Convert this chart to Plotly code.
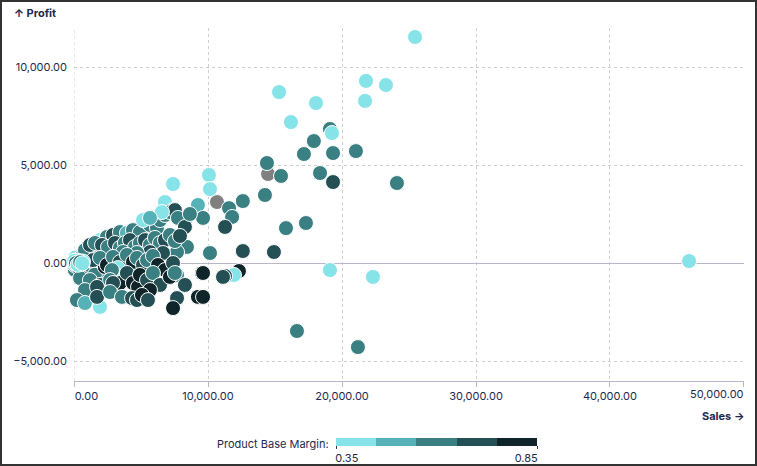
import plotly.graph_objects as go

# ---- data (Sales, Profit, Product Base Margin; None = missing margin) ----
sales = [
    25450, 21790, 23280, 21720, 15300, 18060, 16190, 19100, 19250, 17900,
    17160, 19330, 21040, 14400, 14480, 15450, 18360, 19330, 24100, 14250,
    12600, 11570, 11800, 11270, 15820, 17310, 12600, 14920, 19100, 22310,
    12310, 11940, 11270, 16640, 21190, 45900, 10070, 7390, 10150, 6790,
    7390, 10670, 9250, 9630, 8280, 8430, 7690, 10150, 9550, 7690,
    6940, 7690, 7390, 9250, 9630,
    50, 120, 200, 300, 80, 150, 260, 400, 520, 650,
    700, 820, 900, 1000, 1100, 1200, 1300, 1400, 60, 180,
    350, 480, 560, 750, 880, 950, 1050, 1150, 1250, 1350,
    1450, 30, 90, 240, 330, 420, 600, 780, 980, 1180,
    1600, 1700, 1800, 2000, 2200, 2400, 2600, 1650, 1550, 2100,
    2300, 2500,
    1940, 2460, 2910, 3430, 3950, 4400, 4920, 5450, 5670, 6190,
    6420, 6790, 7160, 7530, 7760, 8280, 8650, 6270, 6560, 5150,
    5670,
    820, 1190, 1570, 2090, 2540, 3060, 3430, 3800, 4180, 4550,
    4920, 5300, 5670, 6040, 6420, 6790, 7160, 7530, 7910, 6640,
    5670, 4700, 3660,
    1420, 1940, 2460, 2910, 3430, 3950, 4400, 4700, 5150, 5450,
    5890, 6270, 6790, 7390, 3280, 2310, 2830,
    450, 1190, 1940, 2690, 3430, 3950, 4400, 4780, 4920, 5450,
    5890, 6420, 7160, 7530, 9630, 11120, 820, 1720, 2910, 5670,
    8280,
    220, 820, 1940, 1720, 2690, 3580, 4330, 4700, 5070, 5520,
    40, 110, 170, 230, 310, 370, 440, 510, 590, 670,
    20, 140, 280, 460, 620,
]
profit = [
    11530, 9290, 9080, 8270, 8720, 8160, 7190, 6840, 6630, 6220,
    5560, 5610, 5710, 5100, 4540, 4440, 4590, 4130, 4080, 3470,
    3160, 2800, 2350, 1840, 1780, 2040, 610, 560, -360, -710,
    -410, -610, -660, -3470, -4290, 100, 4490, 4030, 3770, 3110,
    2700, 3110, 2960, 2300, 2190, 820, 560, 510, -510, -610,
    -360, -1790, -2300, -1730, -1730,
    20, -50, 80, -120, 150, -200, 250, -80, 300, -300,
    100, -150, 400, -400, 200, 500, -250, 350, -350, 60,
    -20, 180, -180, 420, -500, 260, -60, -280, 550, 120,
    -450, -100, 280, 30, -230, 90, 350, -380, 160, -120,
    600, -300, 700, -500, 500, 150, -700, 50, -600, 650,
    -200, 400,
    1170, 1330, 1430, 1580, 1530, 1680, 1580, 2090, 1940, 1790,
    2190, 2450, 2600, 2700, 2300, 1840, 2500, 2090, 2600, 2190,
    2300,
    660, 920, 1020, 920, 820, 1020, 770, 1020, 1170, 820,
    1020, 1170, 920, 1280, 1020, 1170, 1430, 1120, 1380, 510,
    560, 510, 560,
    150, 260, -100, 310, 50, 410, 50, 260, -100, 150,
    360, -100, -360, 0, -260, -610, -360,
    -770, -870, -1120, -870, -1020, -510, -1020, -1220, -610, -870,
    -510, -1120, -710, -510, -510, -710, -1380, -1220, -1020, -1380,
    -1120,
    -1890, -2040, -2240, -1730, -1480, -1730, -1790, -1890, -1630, -1890,
    -30, 60, -10, 120, 40, -60, 90, 10, -40, 70,
    110, 0, -90, 50, -20,
]
base_margin = [
    0.39, 0.40, 0.38, 0.41, 0.37, 0.42, 0.36, 0.62, 0.40, 0.60,
    0.61, 0.59, 0.62, 0.60, None, 0.58, 0.63, 0.71, 0.60, 0.61,
    0.59, 0.60, 0.62, 0.70, 0.60, 0.61, 0.72, 0.69, 0.39, 0.40,
    0.80, 0.38, 0.70, 0.60, 0.61, 0.39, 0.40, 0.41, 0.38, 0.42,
    0.37, None, 0.50, 0.60, 0.62, 0.60, 0.59, 0.61, 0.80, 0.60,
    0.81, 0.70, 0.82, 0.79, 0.83,
    0.60, 0.40, 0.70, 0.62, 0.50, 0.72, 0.41, 0.60, 0.39, 0.80,
    0.58, 0.70, 0.42, 0.61, 0.50, 0.60, 0.73, 0.38, 0.62, 0.45,
    0.40, 0.69, 0.60, 0.51, 0.71, 0.43, 0.59, 0.81, 0.60, 0.40,
    0.70, 0.61, 0.39, 0.60, 0.72, 0.44, 0.58, 0.70, 0.41, 0.62,
    0.60, 0.71, 0.61, 0.79, 0.59, 0.70, 0.62, 0.40, 0.60, 0.68,
    0.77, 0.61,
    0.40, 0.60, 0.70, 0.61, 0.50, 0.60, 0.62, 0.41, 0.60, 0.58,
    0.61, 0.60, 0.63, 0.71, 0.60, 0.72, 0.59, None, 0.39, 0.42,
    0.52,
    0.60, 0.70, 0.61, 0.69, 0.60, 0.71, 0.62, 0.59, 0.72, 0.60,
    0.61, 0.70, 0.60, 0.58, 0.62, 0.71, 0.60, 0.61, 0.69, 0.73,
    0.70, 0.60, 0.59,
    0.70, 0.60, 0.80, 0.61, 0.71, 0.60, 0.82, 0.62, 0.69, 0.60,
    0.59, 0.79, 0.81, 0.72, 0.40, None, 0.61,
    0.60, 0.61, 0.70, 0.60, 0.80, 0.71, 0.81, 0.83, 0.79, 0.70,
    0.60, 0.72, 0.80, 0.61, 0.82, 0.71, 0.60, 0.70, 0.69, 0.81,
    0.70,
    0.60, 0.50, 0.40, 0.71, 0.60, 0.61, 0.70, 0.69, 0.80, 0.72,
    0.40, 0.60, 0.45, 0.38, 0.62, 0.41, 0.70, 0.39, 0.50, 0.42,
    0.37, 0.61, 0.40, 0.58, 0.43,
]

x_ticks = [0, 10000, 20000, 30000, 40000, 50000]
y_ticks = [-5000, 0, 5000, 10000]
legend_ticks = [0.35, 0.85]

NB = '\u00a0'


def fmt(v):
    return f'{v:,.2f}'


# ---- split valid / missing ----
sx, sy, sm = [], [], []
gx, gy = [], []
for a, b, c in zip(sales, profit, base_margin):
    if c is None:
        gx.append(a); gy.append(b)
    else:
        sx.append(a); sy.append(b); sm.append(c)

bins = ['#86e3e8', '#55b3b8', '#3a7f82', '#245055', '#0f2529']
cs = []
for i, col in enumerate(bins):
    cs.append([i / 5, col]); cs.append([(i + 1) / 5, col])

TXT = '#1e2a4e'
W, H = 757, 466
ML, MR, MT, MB = 74, 13, 28, 85
PW, PH = W - ML - MR, H - MT - MB

# x tick labels: first one nudged inward with leading padding, last one drawn
# as a right-anchored label at its tick so it stays inside the frame
x_ticktext = [fmt(v) for v in x_ticks]
x_ticktext[0] = NB * 8 + x_ticktext[0]
last_x_label = x_ticktext[-1]
x_ticktext[-1] = ''

legend_text = [fmt(v) for v in legend_ticks]
legend_text[0] = NB * 7 + legend_text[0]
legend_text[-1] = legend_text[-1] + NB * 7

fig = go.Figure()
fig.add_trace(go.Scatter(
    x=gx, y=gy, mode='markers', cliponaxis=False, showlegend=False,
    marker=dict(size=15, color='#808080', line=dict(color='white', width=1)),
))
fig.add_trace(go.Scatter(
    x=sx, y=sy, mode='markers', cliponaxis=False, showlegend=False,
    marker=dict(
        size=15, color=sm, colorscale=cs, cmin=0.35, cmax=0.85,
        line=dict(color='white', width=1), showscale=True,
        colorbar=dict(
            orientation='h', x=(336 - ML) / PW, xanchor='left',
            y=(MT + PH - 438) / PH, yanchor='top',
            thickness=8, len=201, lenmode='pixels', xpad=0, ypad=0,
            outlinewidth=0, tickvals=legend_ticks, ticktext=legend_text,
            ticklabeloverflow='allow',
            ticks='outside', ticklen=3, tickcolor='#333',
            tickfont=dict(size=11, color=TXT),
        ),
    ),
))

fig.update_layout(
    width=W, height=H,
    margin=dict(l=ML, r=MR, t=MT, b=MB, autoexpand=False),
    paper_bgcolor='white', plot_bgcolor='white',
    font=dict(family='Inter, Roboto, sans-serif', size=11, color=TXT),
    xaxis=dict(
        range=[0, 50000.5], tickvals=x_ticks,
        ticktext=x_ticktext, ticklabeloverflow='allow',
        showline=True, linecolor='#b8b6c8', linewidth=1,
        ticks='outside', ticklen=5, tickcolor='#b8b6c8',
        showgrid=True, gridcolor='#cfcfcf', griddash='dot', gridwidth=1,
        zeroline=False, tickfont=dict(size=11, color=TXT),
    ),
    yaxis=dict(
        range=[-6020, 11990], tickvals=y_ticks, tickformat=',.2f',
        showline=False, ticks='', ticklabelstandoff=6,
        showgrid=True, gridcolor='#cfcfcf', griddash='dot', gridwidth=1,
        zeroline=True, zerolinecolor='#b8b6c8', zerolinewidth=1,
        tickfont=dict(size=11, color=TXT),
    ),
    annotations=[
        dict(text=last_x_label, xref='x', yref='paper',
             x=x_ticks[-1], y=(MT + PH - 394) / PH, xanchor='right', yanchor='middle',
             xshift=2, showarrow=False, font=dict(size=11, color=TXT)),
        dict(text='<b>↑ Profit</b>', xref='paper', yref='paper',
             x=(12 - ML) / PW, y=(MT + PH - 13) / PH, xanchor='left', yanchor='middle',
             showarrow=False, font=dict(size=11, color=TXT)),
        dict(text='<b>Sales →</b>', xref='paper', yref='paper',
             x=(746 - ML) / PW, y=(MT + PH - 416) / PH, xanchor='right', yanchor='middle',
             showarrow=False, font=dict(size=11, color=TXT)),
        dict(text='Product Base Margin:', xref='paper', yref='paper',
             x=(331 - ML) / PW, y=(MT + PH - 444) / PH, xanchor='right', yanchor='middle',
             showarrow=False, font=dict(size=11, color=TXT)),
    ],
    shapes=[
        dict(type='line', xref='x', yref='paper', x0=0, x1=0, y0=0, y1=1,
             line=dict(color='#cfcfcf', width=1, dash='dot'), layer='below'),
        dict(type='rect', xref='paper', yref='paper',
             x0=(1 - ML) / PW, x1=(W - 1 - ML) / PW,
             y0=(MT + PH - (H - 1)) / PH, y1=(MT + PH - 1) / PH,
             line=dict(color='#333333', width=2), fillcolor='rgba(0,0,0,0)',
             layer='above'),
    ],
)

fig.write_html('out.html')
